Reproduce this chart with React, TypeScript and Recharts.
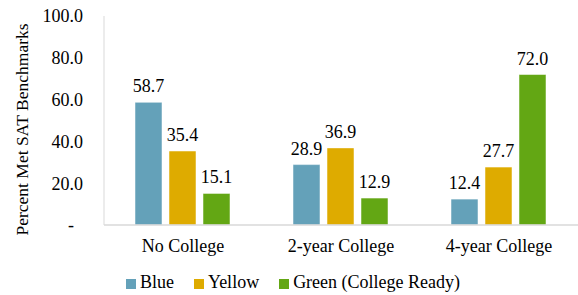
import React from "react";
import {
  BarChart,
  Bar,
  XAxis,
  YAxis,
  LabelList,
  Legend,
  Label,
} from "recharts";

const categories = ["No College", "2-year College", "4-year College"];
const blueValues = [58.7, 28.9, 12.4];
const yellowValues = [35.4, 36.9, 27.7];
const greenValues = [15.1, 12.9, 72.0];
const yTicks = [0, 20, 40, 60, 80, 100];

const seriesList = [
  { key: "blue", label: "Blue", color: "#64A1B9" },
  { key: "yellow", label: "Yellow", color: "#DEAB00" },
  { key: "green", label: "Green (College Ready)", color: "#63A714" },
];

const data = categories.map((name, i) => ({
  name,
  blue: blueValues[i],
  yellow: yellowValues[i],
  green: greenValues[i],
}));

const FONT = '"Liberation Serif", "Times New Roman", serif';

function YTick({ x, y, payload }: { x?: number; y?: number; payload?: { value: number } }) {
  const v = payload?.value ?? 0;
  const isZero = v === 0;
  return (
    <text
      x={(x ?? 0) - (isZero ? 9 : 0)}
      y={y}
      dy="0.355em"
      textAnchor="end"
      fontSize={18}
      fontFamily={FONT}
      fill="#000"
    >
      {isZero ? "-" : v.toFixed(1)}
    </text>
  );
}

function LegendContent() {
  return (
    <div
      style={{
        display: "flex",
        justifyContent: "center",
        alignItems: "center",
        height: 25,
        paddingLeft: 8,
        fontFamily: FONT,
        fontSize: 18,
        color: "#000",
      }}
    >
      {seriesList.map((s) => (
        <div key={s.key} style={{ display: "flex", alignItems: "center", margin: "0 10px" }}>
          <span
            style={{ width: 10, height: 10, background: s.color, marginRight: 4, marginTop: 2 }}
          />
          <span>{s.label}</span>
        </div>
      ))}
    </div>
  );
}

export default function App() {
  return (
    <div style={{ position: "fixed", left: 0, top: 0, width: 578, height: 295, background: "#fff" }}>
      <BarChart
        width={578}
        height={295}
        data={data}
        margin={{ top: 16, right: 0, bottom: 0, left: 0 }}
        barCategoryGap={31}
        barGap={7}
      >
        <XAxis
          dataKey="name"
          interval={0}
          tickLine={false}
          axisLine={{ stroke: "#d9d9d9", strokeWidth: 1.5 }}
          height={45}
          tickMargin={8}
          tick={{ fontSize: 18, fontFamily: FONT, fill: "#000" }}
        />
        <YAxis
          domain={[0, 100]}
          ticks={yTicks}
          width={104}
          tickLine={false}
          tickMargin={15}
          axisLine={{ stroke: "#d9d9d9" }}
          tick={<YTick />}
        >
          <Label
            content={({ viewBox }: any) => {
              const cx = 22;
              const cy = (viewBox?.y ?? 0) + (viewBox?.height ?? 0) / 2 + 9;
              return (
                <text
                  x={cx}
                  y={cy}
                  transform={`rotate(-90 ${cx} ${cy})`}
                  textAnchor="middle"
                  dominantBaseline="central"
                  fontSize={17.5}
                  fontFamily={FONT}
                  fill="#000"
                >
                  Percent Met SAT Benchmarks
                </text>
              );
            }}
          />
        </YAxis>
        <Legend verticalAlign="bottom" height={25} content={<LegendContent />} />
        {seriesList.map((s) => (
          <Bar
            key={s.key}
            dataKey={s.key}
            name={s.label}
            fill={s.color}
            stroke="#ffffff"
            strokeOpacity={0.5}
            strokeWidth={1}
            isAnimationActive={false}
          >
            <LabelList
              dataKey={s.key}
              position="top"
              offset={10}
              formatter={(v: any) => Number(v).toFixed(1)}
              style={{ fontSize: 18, fontFamily: FONT, fill: "#000" }}
            />
          </Bar>
        ))}
      </BarChart>
    </div>
  );
}
